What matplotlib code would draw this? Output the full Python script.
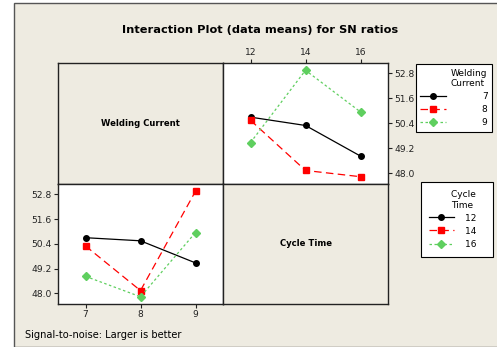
import matplotlib
matplotlib.use("Agg")
import matplotlib.pyplot as plt
from matplotlib.patches import Rectangle

# Data: mean SN ratios, rows = Welding Current level, columns = Cycle Time level
welding_current = [7, 8, 9]
cycle_time = [12, 14, 16]
wc7 = [50.70, 50.30, 48.83]   # Welding current 7 at cycle time 12, 14, 16
wc8 = [50.55, 48.14, 47.84]   # Welding current 8
wc9 = [49.48, 52.95, 50.95]   # Welding current 9
yticks = [48.0, 49.2, 50.4, 51.6, 52.8]

title = "Interaction Plot (data means) for SN ratios"
footnote = "Signal-to-noise: Larger is better"

BEIGE = "#EEEBE1"
colors = ["black", "#FF0000", "#5FCF5F"]
markers = ["o", "s", "D"]
dashes = [None, (6, 3.5), (2, 2)]
msizes = [4, 4, 4.5]

W, H = 497, 347
fig = plt.figure(figsize=(W / 100, H / 100), dpi=100)
fig.patch.set_facecolor("white")

# outer beige frame
fig.patches.append(Rectangle((14 / W, 0), 1, 1 - 3 / H, transform=fig.transFigure,
                             facecolor=BEIGE, edgecolor="#555555", lw=1.0, zorder=-10))

def fx(x):
    return x / W

def fy(y):
    return 1 - y / H

left, mid, right = 58, 223, 388
top, ymid, bot = 63, 184, 304

ax_tl = fig.add_axes([fx(left), fy(ymid), fx(mid - left), fy(top) - fy(ymid)])
ax_tr = fig.add_axes([fx(mid), fy(ymid), fx(right - mid), fy(top) - fy(ymid)])
ax_bl = fig.add_axes([fx(left), fy(bot), fx(mid - left), fy(ymid) - fy(bot)])
ax_br = fig.add_axes([fx(mid), fy(bot), fx(right - mid), fy(ymid) - fy(bot)])

for ax, lab in [(ax_tl, "Welding Current"), (ax_br, "Cycle Time")]:
    ax.set_facecolor(BEIGE)
    ax.set_xticks([])
    ax.set_yticks([])
    ax.text(0.5, 0.5, lab, transform=ax.transAxes, ha="center", va="center",
            fontsize=6.1, fontweight="bold")

series_wc = [wc7, wc8, wc9]
# series by cycle time (transpose)
series_ct = [[row[j] for row in series_wc] for j in range(3)]

def style_line(ax, xs, ys, i, label):
    kw = dict(color=colors[i], marker=markers[i], markersize=msizes[i], lw=0.9, label=label)
    line, = ax.plot(xs, ys, **kw)
    if dashes[i] is not None:
        line.set_dashes(dashes[i])
    return line

h_top = []
for i, s in enumerate(series_wc):
    h_top.append(style_line(ax_tr, cycle_time, s, i, str(welding_current[i])))
h_bot = []
for i, s in enumerate(series_ct):
    h_bot.append(style_line(ax_bl, welding_current, s, i, str(cycle_time[i]) + "   "))

ylim = (47.49, 53.3)
ax_tr.set_xlim(11, 17)
ax_tr.set_ylim(*ylim)
ax_tr.set_xticks(cycle_time)
ax_tr.set_yticks(yticks)
ax_tr.set_yticklabels([f"{v:.1f}" for v in yticks])
ax_tr.xaxis.tick_top()
ax_tr.yaxis.tick_right()

ax_bl.set_xlim(6.5, 9.5)
ax_bl.set_ylim(*ylim)
ax_bl.set_xticks(welding_current)
ax_bl.set_yticks(yticks)
ax_bl.set_yticklabels([f"{v:.1f}" for v in yticks])

for ax in [ax_tl, ax_tr, ax_bl, ax_br]:
    for sp in ax.spines.values():
        sp.set_color("#222222")
        sp.set_linewidth(1.0)
for ax in [ax_tr, ax_bl]:
    ax.tick_params(labelsize=6.6, length=3, width=0.8, pad=1.5, colors="#222222")

fig.text(fx(260), fy(30), title, ha="center", va="center", fontsize=8.2, fontweight="bold")
fig.text(fx(25), fy(335), footnote, ha="left", va="center", fontsize=7.1)

leg_kw = dict(frameon=True, fancybox=False, edgecolor="black", framealpha=1,
              fontsize=6.5, title_fontsize=6.5, handlelength=2.8,
              labelspacing=0.45, alignment="right", borderaxespad=0)
leg1 = fig.legend(handles=h_top, title="Welding\nCurrent", loc="upper right",
                  bbox_to_anchor=(fx(492), fy(64)), handletextpad=4.0, borderpad=0.5, **leg_kw)
leg2 = fig.legend(handles=h_bot, title="Cycle   \nTime   ", loc="upper right",
                  bbox_to_anchor=(fx(493), fy(182)), handletextpad=1.2, borderpad=0.9, **leg_kw)
for leg in (leg1, leg2):
    leg.get_frame().set_linewidth(0.8)

fig.savefig("out.png", dpi=100)
